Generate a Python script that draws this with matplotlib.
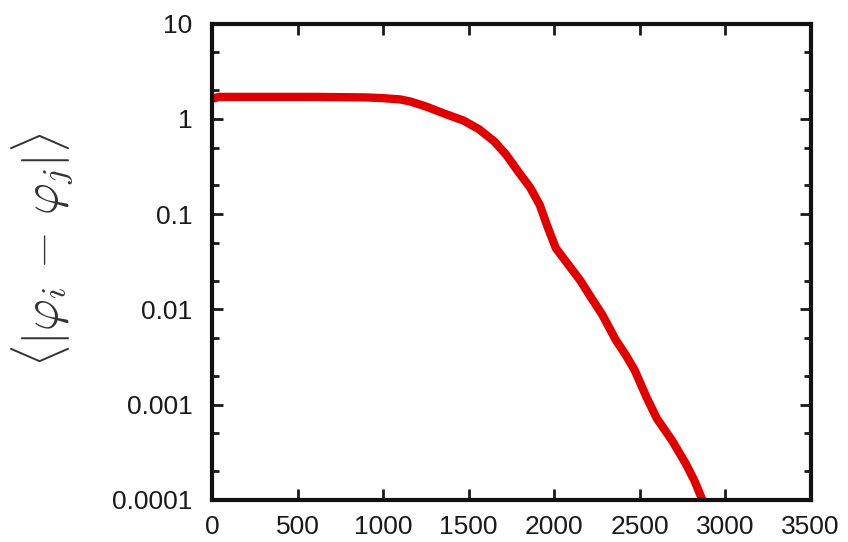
import numpy as np
import matplotlib.pyplot as plt
from matplotlib.ticker import FixedLocator, NullFormatter

# values (time step vs mean phase difference)
steps = [0, 40, 300, 600, 900, 1000, 1100, 1160, 1250, 1350, 1470, 1560, 1650,
         1720, 1790, 1860, 1916, 1960, 2010, 2080, 2154, 2220, 2280, 2360,
         2420, 2471, 2540, 2600, 2690, 2770, 2820, 2867]
phase_diff = [1.62, 1.70, 1.70, 1.70, 1.68, 1.65, 1.60, 1.52, 1.35, 1.15, 0.96,
              0.78, 0.58, 0.42, 0.28, 0.19, 0.125, 0.075, 0.044, 0.030, 0.020,
              0.013, 0.0089, 0.0048, 0.0033, 0.0023, 0.0012, 0.00072, 0.00042,
              0.00024, 0.00016, 0.0001]

xticks = [0, 500, 1000, 1500, 2000, 2500, 3000, 3500]
yticks = [0.0001, 0.001, 0.01, 0.1, 1, 10]
ytick_labels = ['0.0001', '0.001', '0.01', '0.1', '1', '10']

plt.rcParams['font.family'] = ['Liberation Sans', 'DejaVu Sans']
plt.rcParams['mathtext.fontset'] = 'cm'

fig = plt.figure(figsize=(8.48, 5.42), dpi=100)
ax = fig.add_axes([0.25, 0.0775, 0.706, 0.879])

ax.plot(steps, phase_diff, color='#e00000', linewidth=6, solid_capstyle='butt')

ax.set_yscale('log')
ax.set_xlim(0, 3500)
ax.set_ylim(0.0001, 10)
ax.set_xticks(xticks)
ax.set_xticklabels([str(t) for t in xticks])
ax.set_yticks(yticks)
ax.set_yticklabels(ytick_labels)
minor = [m * 10.0 ** e for e in range(-4, 1) for m in (2, 5)]
ax.yaxis.set_minor_locator(FixedLocator(minor))
ax.yaxis.set_minor_formatter(NullFormatter())

ax.tick_params(which='both', direction='in', top=True, right=True,
               labelsize=19, width=2, colors='#1a1a1a')
ax.tick_params(axis='x', pad=11)
ax.tick_params(axis='y', pad=14)
ax.tick_params(which='major', length=8)
ax.tick_params(which='minor', length=5)
for s in ax.spines.values():
    s.set_linewidth(3)
    s.set_color('#111111')

fig.text(0.05, 0.54, r'$\langle|\varphi_i\,-\,\varphi_j|\rangle$',
         rotation=90, fontsize=35, ha='center', va='center',
         color='#333333')

fig.savefig('out.png', dpi=100)
